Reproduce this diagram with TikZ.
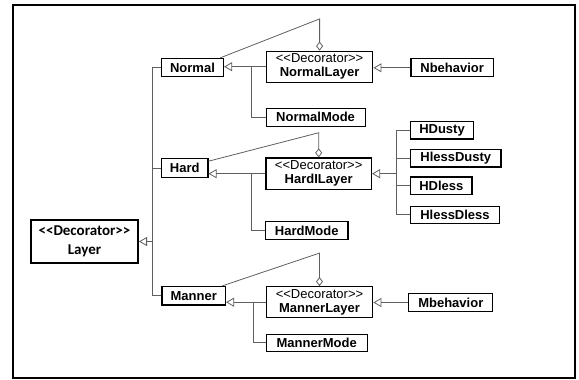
\documentclass[tikz,border=0pt]{standalone}
\usepackage{fontspec}
\setmainfont{Liberation Sans}
\newfontfamily\calib{Carlito}
\usetikzlibrary{arrows.meta}
\newcommand\LLa{<\kern0pt<}
\newcommand\GGa{>\kern0pt>}
\definecolor{lc}{RGB}{95,95,95}
\tikzset{
  box/.style={draw=black, line width=1.2pt, inner sep=0pt, text=black,
    font=\bfseries\fontsize{13}{14}\selectfont, align=center},
  conn/.style={draw=lc, line width=0.8pt},
  gen/.style={conn, -{Triangle[open, length=8pt, width=9pt]}},
  agg/.style={conn, -{Diamond[open, length=9pt, width=7pt]}},
}
\begin{document}
\begin{tikzpicture}[x=1pt, y=-1pt]
\useasboundingbox (0,0) rectangle (579,380);
\draw[line width=2pt] (13,5) rectangle (575,378);

% nodes
\node[box, line width=2pt, minimum width=107pt, minimum height=43pt,
  font=\calib\bfseries\fontsize{15}{18.5}\selectfont] (Layer) at (84.5,241.5) {\LLa Decorator\GGa\\Layer};

\node[box, minimum width=62pt, minimum height=18pt] (Normal) at (192.5,67.5) {Normal};
\node[box, minimum width=106.5pt, minimum height=31pt] (NormalLayer) at (319.6,66.7)
  {{\mdseries \LLa Decorator\GGa}\\NormalLayer};
\node[box, minimum width=99pt, minimum height=18pt] (NormalMode) at (315.6,117.2) {NormalMode};
\node[box, minimum width=82.5pt, minimum height=18pt] (Nbehavior) at (452.2,67.8) {Nbehavior};

\node[box, minimum width=46.5pt, minimum height=19pt] (Hard) at (184.7,168.3) {Hard};
\node[box, minimum width=105.5pt, minimum height=31.5pt] (HardILayer) at (318.7,173.7)
  {{\mdseries \LLa Decorator\GGa}\\HardILayer};
\node[box, minimum width=82.5pt, minimum height=18pt] (HardMode) at (306.7,230.5) {HardMode};
\node[box, minimum width=63pt, minimum height=17.5pt] (HDusty) at (442,130.2) {HDusty};
\node[box, minimum width=90.5pt, minimum height=17.5pt] (HlessDusty) at (455.8,158.3) {HlessDusty};
\node[box, minimum width=61.5pt, minimum height=17.5pt] (HDless) at (441.3,185.8) {HDless};
\node[box, minimum width=89pt, minimum height=17pt] (HlessDless) at (455,214.7) {HlessDless};

\node[box, minimum width=63.5pt, minimum height=18.5pt] (Manner) at (193.7,295.8) {Manner};
\node[box, minimum width=106.5pt, minimum height=31pt] (MannerLayer) at (319.5,302.2)
  {{\mdseries \LLa Decorator\GGa}\\MannerLayer};
\node[box, minimum width=101pt, minimum height=17pt] (MannerMode) at (316.7,342.7) {MannerMode};
\node[box, minimum width=84pt, minimum height=17.5pt] (Mbehavior) at (450.8,302.5) {Mbehavior};

% junction x positions
\coordinate (jL) at (152,0);
\coordinate (jN) at (251.7,0);
\coordinate (jHM) at (251,0);
\coordinate (jM) at (253.3,0);
\coordinate (jH) at (396.7,0);

% Layer generalization tree
\draw[conn] (Normal.west) -| (jL |- Manner.west) -- (Manner.west);
\draw[conn] (Hard.west) -- (Hard.west -| jL);
\draw[gen] (jL |- Layer.east) -- (Layer.east);

% Normal
\draw[gen] (NormalLayer.west) -- (NormalLayer.west -| Normal.east);
\draw[conn] (NormalMode.west) -| (jN |- NormalLayer.west);
\draw[gen] (Nbehavior.west) -- (Nbehavior.west -| NormalLayer.east);
\draw[agg] ([xshift=-4pt]Normal.north east) -- ([yshift=31.7pt]NormalLayer.north) -- (NormalLayer.north);

% Hard
\draw[gen] (HardILayer.west) -- (HardILayer.west -| Hard.east);
\draw[conn] (HardMode.west) -| (jHM |- HardILayer.west);
\draw[agg] ([yshift=-3pt]Hard.north east) -- ([yshift=24.6pt]HardILayer.north) -- (HardILayer.north);
\draw[conn] (HDusty.west) -| (jH |- HlessDless.west) -- (HlessDless.west);
\draw[conn] (HlessDusty.west) -- (HlessDusty.west -| jH);
\draw[conn] (HDless.west) -- (HDless.west -| jH);
\draw[gen] (jH |- HardILayer.east) -- (HardILayer.east);

% Manner
\draw[gen] (MannerLayer.west) -- (MannerLayer.west -| Manner.east);
\draw[conn] (MannerMode.west) -| (jM |- MannerLayer.west);
\draw[gen] (Mbehavior.west) -- (Mbehavior.west -| MannerLayer.east);
\draw[agg] ([xshift=-4pt]Manner.north east) -- ([yshift=33pt]MannerLayer.north) -- (MannerLayer.north);
\end{tikzpicture}
\end{document}
